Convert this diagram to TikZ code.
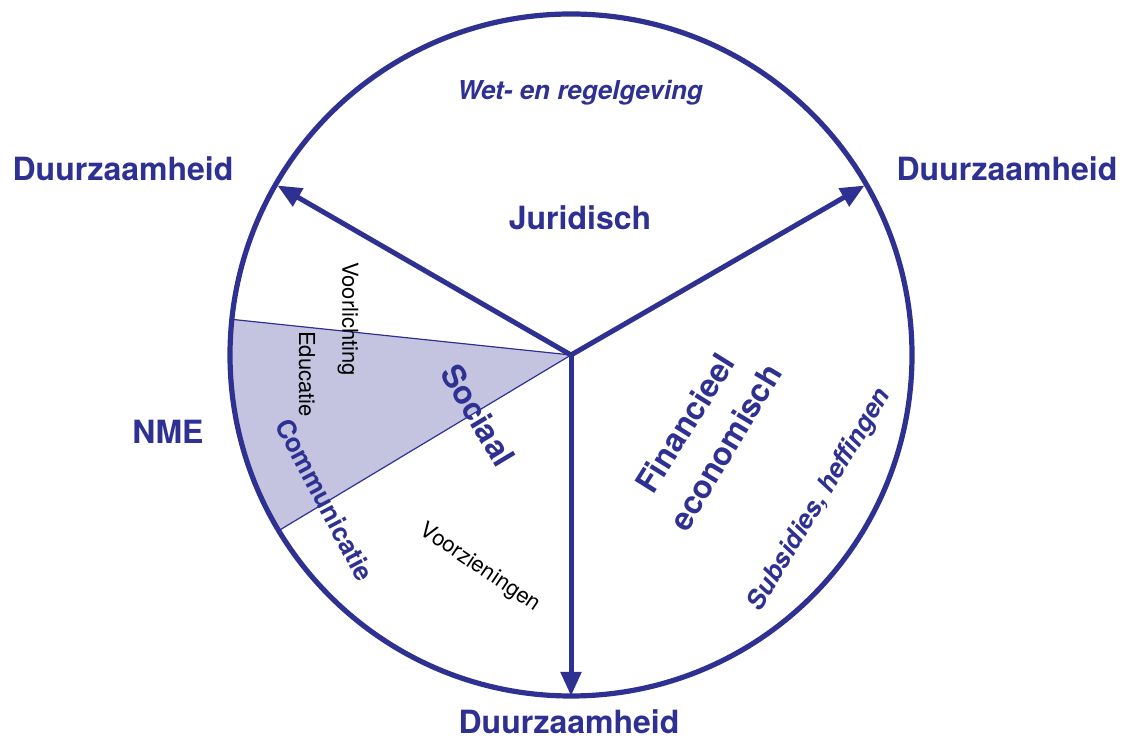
\documentclass[tikz,border=0pt]{standalone}
\usepackage{fontspec}
\setmainfont{TeX Gyre Heros}
\usetikzlibrary{arrows.meta,calc}
\definecolor{dblue}{HTML}{2E3192}
\definecolor{lav}{HTML}{C4C4E0}
\tikzset{
  big/.style={text=dblue,font=\bfseries\fontsize{32}{36}\selectfont,inner sep=0pt},
  mid/.style={text=dblue,font=\bfseries\fontsize{26}{30}\selectfont,inner sep=0pt},
  miditalic/.style={text=dblue,font=\bfseries\itshape\fontsize{26}{30}\selectfont,inner sep=0pt},
  small/.style={text=black,font=\fontsize{22}{26}\selectfont,inner sep=0pt},
  spoke/.style={draw=dblue,line width=5pt,-{Triangle[length=24pt,width=20pt]}},
  thin/.style={draw=dblue,line width=1.2pt}
}
\begin{document}
\begin{tikzpicture}[x=1pt,y=1pt]
\useasboundingbox (0,0) rectangle (1123,738);
\coordinate (C) at (571,383);
\coordinate (UL) at ($(C)+(150:339)$);
\coordinate (UR) at ($(C)+(30:339)$);
\coordinate (B) at ($(C)+(270:341)$);
\coordinate (S1) at ($(C)+(174:341)$);
\coordinate (S2) at ($(C)+(211:341)$);
% shaded sector
\fill[lav] (C) -- (S1) arc[start angle=174,end angle=211,radius=341] -- cycle;
\draw[thin] (S1) -- (C) -- (S2);
% circle
\draw[dblue,line width=5.2pt] (C) circle[radius=341];
% spokes
\draw[spoke] (C) -- (UL);
\draw[spoke] (C) -- (UR);
\draw[spoke] (C) -- (B);
% labels
\node[miditalic] (wet) at (580,645) {Wet- en regelgeving};
\node[big] (jur) at (580,520) {Juridisch};
\node[big] (dl) at (123,569) {Duurzaamheid};
\node[big] (dr) at (1007,569) {Duurzaamheid};
\node[big] (db) at (569,16) {Duurzaamheid};
\node[big] (nme) at (168,306) {NME};
\node[small,rotate=-90] (voor) at (348,419) {Voorlichting};
\node[small,rotate=-90] (edu) at (307,364) {Educatie};
\node[big,rotate=-59] (soc) at (478,323) {Sociaal};
\node[mid,rotate=-62] (com) at (325,238) {Communicatie};
\node[small,rotate=-34] (vz) at (480,170) {Voorzieningen};
\node[big,rotate=58] (fin) at (685,315) {Financieel};
\node[big,rotate=59] (eco) at (725,291) {economisch};
\node[miditalic,rotate=59] (sub) at (820,238) {Subsidies, heffingen};
\end{tikzpicture}
\end{document}
